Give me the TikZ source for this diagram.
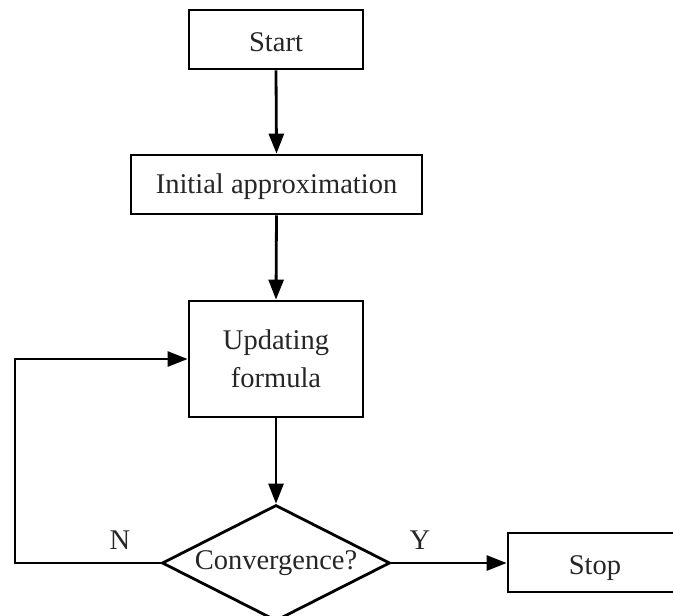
\documentclass[tikz,border=0pt]{standalone}
\usepackage{fontspec}
\setmainfont{Liberation Serif}
\usetikzlibrary{shapes.geometric,arrows.meta}
\begin{document}
\begin{tikzpicture}[x=1pt,y=-1pt,
  every node/.style={font=\fontsize{28.5}{38}\selectfont, text=black!85},
  box/.style={draw, line width=2.8pt, inner sep=0pt, align=center},
  vc/.style={text height=#1, text depth=0pt},
  dec/.style={draw, line width=2.8pt, shape=diamond, inner sep=0pt, shape aspect=1.97, minimum width=228pt, minimum height=116pt},
  conn/.style={line width=2.8pt, -{Triangle[length=20pt,width=15pt]}},
  lbl/.style={inner sep=0pt}]
\useasboundingbox (0,0) rectangle (673,616);
\node[box, vc=23.8pt, minimum width=174pt, minimum height=59pt] (start) at (276,39.5) {Start};
\node[box, vc=17.8pt, minimum width=291pt, minimum height=59pt] (init) at (276.5,184.5) {Initial approximation};
\node[box, minimum width=174pt, minimum height=116pt] (upd) at (276,359) {Updating\\formula};
\node[dec, vc=13pt] (conv) at (276,563) {Convergence?};
\node[box, vc=23.8pt, minimum width=174pt, minimum height=59pt] (stop) at (595,562.5) {Stop};
\node[lbl] (n) at (120,540) {N};
\node[lbl] (y) at (420,540) {Y};
\coordinate (c1) at (15,563);
\coordinate (c2) at (15,359);
\draw[conn] (start.south) -- (init.north);
\draw[conn] (init.south) -- (upd.north);
\draw[conn] (upd.south) -- (conv.north);
\draw[conn] (conv.east) -- (stop.west |- conv.east);
\draw[conn] (conv.west) -- (c1) -- (c2) -- (upd.west);
\end{tikzpicture}
\end{document}
